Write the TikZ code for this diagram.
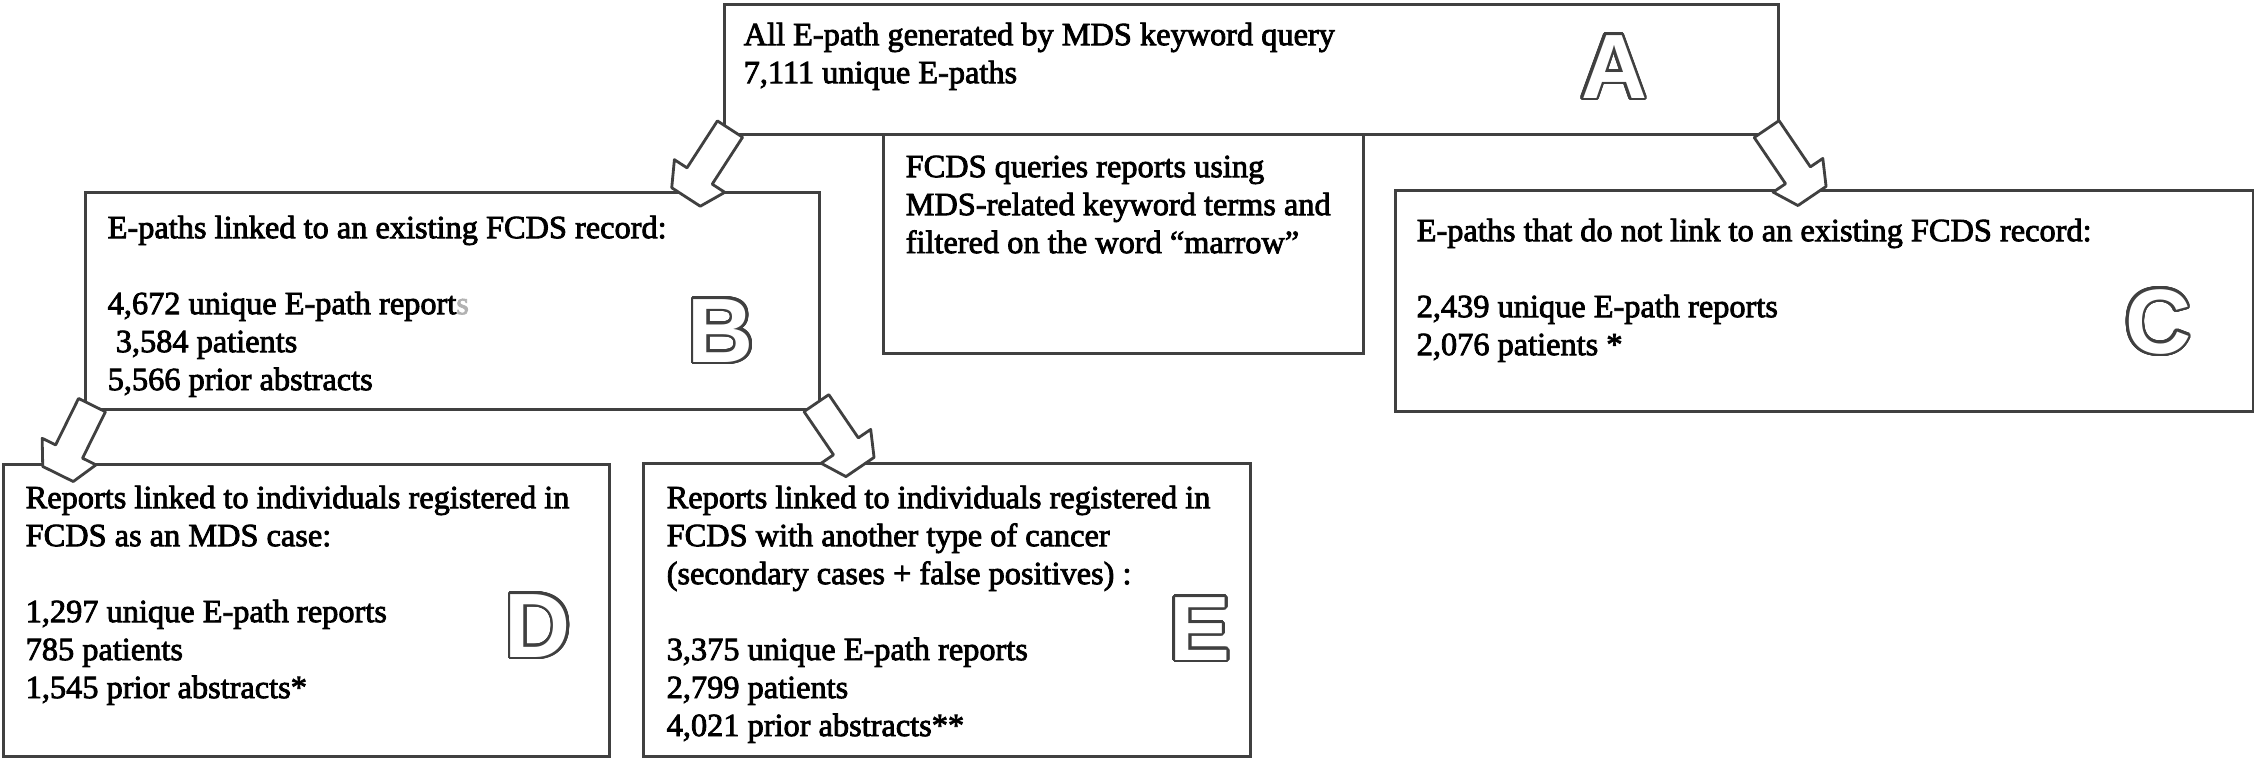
\documentclass[tikz,border=0pt]{standalone}
\usepackage{fontspec}
\setmainfont[FakeBold=2.5]{Liberation Serif}
\newfontfamily\lettrefont{Liberation Sans Bold}
\usepackage{contour}
\contourlength{0.75pt}
\contournumber{32}
\usetikzlibrary{positioning,calc}

\begin{document}
\begin{tikzpicture}[x=0.01cm, y=-0.01cm,
    box/.style={draw=black!75, line width=0.85pt, fill=white, inner sep=0, anchor=north west},
    txt/.style={align=left, inner sep=0, font=\fontsize{9.2}{10.8}\selectfont},
    lettre/.style={inner sep=0, font=\lettrefont\fontsize{26}{26}\selectfont},
    blockarrow/.style={draw=black!75, line width=0.8pt, fill=white, line join=round}]
    \useasboundingbox (0,0) rectangle (2254,758);

    % the six boxes
    \node[box, minimum width=10.53cm, minimum height=1.30cm] (A) at (723,3) {};
    \node[box, minimum width=4.80cm, minimum height=2.19cm] (Q) at (882,133) {};
    \node[box, minimum width=7.34cm, minimum height=2.17cm] (B) at (84,191) {};
    \node[box, minimum width=8.57cm, minimum height=2.21cm] (C) at (1394,189) {};
    \node[box, minimum width=6.06cm, minimum height=2.92cm] (D) at (2,463) {};
    \node[box, minimum width=6.07cm, minimum height=2.93cm] (E) at (642,462) {};

    \node[txt, below right=0.19cm and 0.20cm of A.north west] (tA)
        {All E-path generated by MDS keyword query\\7,111 unique E-paths};
    \node[txt, below right=0.22cm and 0.23cm of Q.north west] (tQ)
        {FCDS queries reports using\\MDS-related keyword terms and\\filtered on the word “marrow”};
    \node[txt, below right=0.24cm and 0.23cm of B.north west] (tB)
        {E-paths linked to an existing FCDS record:\\[10.8pt]4,672 unique E-path report{\color{black!30}s}\\\ 3,584 patients\\5,566 prior abstracts};
    \node[txt, below right=0.29cm and 0.22cm of C.north west] (tC)
        {E-paths that do not link to an existing FCDS record:\\[10.8pt]2,439 unique E-path reports\\2,076 patients *};
    \node[txt, below right=0.22cm and 0.23cm of D.north west] (tD)
        {Reports linked to individuals registered in\\FCDS as an MDS case:\\[10.8pt]1,297 unique E-path reports\\785 patients\\1,545 prior abstracts*};
    \node[txt, below right=0.23cm and 0.24cm of E.north west] (tE)
        {Reports linked to individuals registered in\\FCDS with another type of cancer\\(secondary cases + false positives) :\\[10.8pt]3,375 unique E-path reports\\2,799 patients\\4,021 prior abstracts**};

    % hollow letters
    \node[lettre] (lA) at (1614,68) {\contour{black!75}{\textcolor{white}{A}}};
    \node[lettre] (lB) at (721,332) {\contour{black!75}{\textcolor{white}{B}}};
    \node[lettre] (lC) at (2158,323) {\contour{black!75}{\textcolor{white}{C}}};
    \node[lettre] (lD) at (538,627) {\contour{black!75}{\textcolor{white}{D}}};
    \node[lettre] (lE) at (1200,630) {\contour{black!75}{\textcolor{white}{E}}};

    % arrow ends
    \coordinate (ab0) at ($(A.south west)+(7,-7)$);
    \coordinate (ab1) at ($(B.north west)+(602,6)$);
    \coordinate (ac0) at ($(A.south east)+(-13,-7)$);
    \coordinate (ac1) at ($(C.north west)+(418,7)$);
    \coordinate (bd0) at ($(B.south west)+(8,-6)$);
    \coordinate (bd1) at ($(D.north west)+(56,11)$);
    \coordinate (be0) at ($(B.south east)+(-5,-8)$);
    \coordinate (be1) at ($(E.north west)+(218,5)$);

    \foreach \s/\t in {ab0/ab1, ac0/ac1, bd0/bd1, be0/be1} {
        \coordinate (neck) at ($(\t)!0.25cm!(\s)$);
        \draw[blockarrow] ($(\s)!0.15cm!90:(\t)$) -- ($(neck)!0.15cm!90:(\t)$)
            -- ($(neck)!0.30cm!90:(\t)$) -- ($(\t)!0.17cm!-90:(\s)$)
            -- ($(\t)!0.17cm!90:(\s)$) -- ($(neck)!0.30cm!-90:(\t)$)
            -- ($(neck)!0.15cm!-90:(\t)$) -- ($(\s)!0.15cm!-90:(\t)$) -- cycle;
    }
\end{tikzpicture}
\end{document}
